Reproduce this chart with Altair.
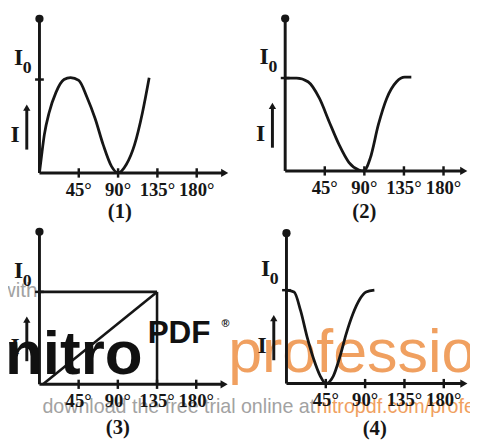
import altair as alt
import pandas as pd

INK = "#161616"
SERIF = "Liberation Serif"
SANS = "Liberation Sans"
GRAY = "#a2a2a2"
ORANGE = "#f0a060"

# ---------------- data ----------------
TICKS = [45, 90, 135, 180]
TICK_LABELS = ["45°", "90°", "135°", "180°"]
PANEL_NAMES = ["(1)", "(2)", "(3)", "(4)"]

# graph (1)
C1_THETA = [0, 2.6, 5.6, 11.2, 18.8, 28.1, 35.6, 45, 54.4, 63.8, 73, 82.5, 90, 99.4, 108.8, 118, 125.6]
C1_I = [0, 0.20, 0.41, 0.65, 0.86, 1.0, 1.02, 0.99, 0.81, 0.58, 0.30, 0.07, 0.0, 0.09, 0.30, 0.65, 1.02]
# graph (2)
C2_THETA = [0, 13, 26, 39, 50, 61.4, 72.6, 83.8, 89.4, 96.8, 106, 115.4, 126.6, 135.9, 143.4]
C2_I = [1.0, 1.0, 0.96, 0.78, 0.53, 0.28, 0.09, 0.01, 0.0, 0.14, 0.50, 0.78, 0.96, 1.01, 1.01]
# graph (3): straight segments
C3_X1 = [0, 135, 4]
C3_Y1 = [1, 0, 0]
C3_X2 = [135, 135, 135]
C3_Y2 = [1, 1, 1]
# graph (4)
C4_THETA = [0, 8.7, 16.2, 23.6, 31.2, 38.7, 45, 53.6, 61.2, 68.6, 76.2, 83.7, 91.1, 100.6]
C4_I = [1.0, 0.98, 0.78, 0.50, 0.26, 0.08, 0.0, 0.08, 0.29, 0.54, 0.75, 0.90, 0.98, 1.0]

# per-panel scale domains (degrees, I/I0) and axis extents
XDOM = [[-36.0, 228.4], [-52.5, 210.1], [-36.1, 229.1], [-54.3, 210.0]]
YDOM = [[-0.568, 1.726], [-0.593, 1.714], [-0.606, 1.713], [-0.607, 1.687]]
Y_TOP = [1.65, 1.64, 1.65, 1.61]
X_END = [212, 203, 212, 203]
NAME_X = [92, 90, 90, 101]
NAME_DY = [40, 42, 45, 46]

W, H = 235, 218


def panel(i, curve_layers, extra_under=(), extra_over=()):
    xs = alt.Scale(domain=XDOM[i], nice=False, zero=False)
    ys = alt.Scale(domain=YDOM[i], nice=False, zero=False)

    def enc(ch, **kw):
        return ch.encode(
            x=alt.X("x:Q", scale=xs, axis=None),
            y=alt.Y("y:Q", scale=ys, axis=None),
            **kw,
        )

    layers = []
    layers += [f(enc) for f in extra_under]
    # x axis
    layers.append(enc(alt.Chart(pd.DataFrame({"x": [0], "x2": [X_END[i]], "y": [0]}))
                      .mark_rule(color=INK, strokeWidth=3), x2="x2:Q"))
    layers.append(enc(alt.Chart(pd.DataFrame({"x": [X_END[i]], "y": [0]}))
                      .mark_point(shape="triangle-right", filled=True, size=70, color=INK, opacity=1)))
    # y axis
    layers.append(enc(alt.Chart(pd.DataFrame({"x": [0], "y": [0], "y2": [Y_TOP[i]]}))
                      .mark_rule(color=INK, strokeWidth=3), y2="y2:Q"))
    layers.append(enc(alt.Chart(pd.DataFrame({"x": [0], "y": [Y_TOP[i]]}))
                      .mark_circle(size=70, color=INK, opacity=1)))
    # x ticks
    layers.append(enc(alt.Chart(pd.DataFrame({"x": TICKS}))
                      .transform_calculate(y="-0.05", y2="0.05")
                      .mark_rule(color=INK, strokeWidth=2.5), y2="y2:Q"))
    # I0 tick
    layers.append(enc(alt.Chart(pd.DataFrame({"x": [-5], "x2": [5], "y": [1]}))
                      .mark_rule(color=INK, strokeWidth=2.5), x2="x2:Q"))
    # tick labels
    layers.append(enc(alt.Chart(pd.DataFrame({"x": TICKS, "y": [0] * 4, "t": TICK_LABELS}))
                      .mark_text(font=SERIF, fontWeight="bold", fontSize=19, color=INK,
                                 baseline="middle", align="center", dy=17), text="t:N"))
    # panel name
    layers.append(enc(alt.Chart(pd.DataFrame({"x": [NAME_X[i]], "y": [0], "t": [PANEL_NAMES[i]]}))
                      .mark_text(font=SERIF, fontWeight="bold", fontSize=21, color=INK,
                                 baseline="middle", align="center", dy=NAME_DY[i]), text="t:N"))
    # I0 label
    layers.append(enc(alt.Chart(pd.DataFrame({"x": [-24], "y": [1.23], "t": ["I"]}))
                      .mark_text(font=SERIF, fontWeight="bold", fontSize=24, color=INK,
                                 baseline="middle", align="center"), text="t:N"))
    layers.append(enc(alt.Chart(pd.DataFrame({"x": [-14], "y": [1.12], "t": ["0"]}))
                      .mark_text(font=SERIF, fontWeight="bold", fontSize=18, color=INK,
                                 baseline="middle", align="center"), text="t:N"))
    # I with upward arrow
    layers.append(enc(alt.Chart(pd.DataFrame({"x": [-14.5], "y": [0.25], "y2": [0.68]}))
                      .mark_rule(color=INK, strokeWidth=3), y2="y2:Q"))
    layers.append(enc(alt.Chart(pd.DataFrame({"x": [-14.5], "y": [0.70]}))
                      .mark_point(shape="triangle-up", filled=True, size=55, color=INK, opacity=1)))
    layers.append(enc(alt.Chart(pd.DataFrame({"x": [-28], "y": [0.40], "t": ["I"]}))
                      .mark_text(font=SERIF, fontWeight="bold", fontSize=24, color=INK,
                                 baseline="middle", align="center"), text="t:N"))
    layers += [f(enc) for f in curve_layers]
    layers += [f(enc) for f in extra_over]
    return alt.layer(*layers).properties(width=W, height=H)


def curve(th, iv):
    return lambda enc: enc(alt.Chart(pd.DataFrame({"x": th, "y": iv}))
                           .mark_line(color=INK, strokeWidth=2.8, interpolate="monotone"))


def segs(enc):
    return enc(alt.Chart(pd.DataFrame({"x": C3_X1, "y": C3_Y1, "x2": C3_X2, "y2": C3_Y2}))
               .mark_rule(color=INK, strokeWidth=2.6), x2="x2:Q", y2="y2:Q")


def txt(x, y, t, align="left", **style):
    return lambda enc: enc(alt.Chart(pd.DataFrame({"x": [x], "y": [y], "t": [t]}))
                           .mark_text(baseline="alphabetic", align=align, **style), text="t:N")


# watermark text (part of the scanned picture)
wm3_under = [
    txt(-2.3, 0.95, "with", align="right", font=SANS, fontSize=21, color=GRAY, clip=True),
    txt(3.4, -0.31, "download the free trial", font=SANS, fontSize=20, color=GRAY),
]
wm3_over = [
    txt(-39.5, 0.106, "nitro", font=SANS, fontWeight="bold", fontSize=63,
        color="#111111", clip=True),
    txt(124.2, 0.447, "PDF", font=SANS, fontWeight="bold", fontSize=32, color="#111111"),
    txt(209, 0.62, "®", font=SANS, fontWeight="bold", fontSize=11, color="#111111"),
]
wm4_under = [
    txt(-66.7, 0.12, "professi", font=SANS, fontSize=62, color=ORANGE),
    txt(177.4, 0.12, "o", font=SANS, fontSize=62, color=ORANGE, clip=True),
    txt(-52.1, -0.31, "online at", font=SANS, fontSize=20, color=GRAY),
    txt(34.5, -0.31, "nitropdf.com/professional", font=SANS, fontSize=20, color=ORANGE, clip=True),
]

p1 = panel(0, [curve(C1_THETA, C1_I)])
p2 = panel(1, [curve(C2_THETA, C2_I)])
p3 = panel(2, [segs], extra_under=wm3_under, extra_over=wm3_over)
p4 = panel(3, [curve(C4_THETA, C4_I)], extra_under=wm4_under)

chart = (
    alt.concat(p1, p2, p3, p4, columns=2, spacing=0, bounds="flush")
    .properties(padding=0, background="white")
    .configure_view(stroke=None)
)

chart.save("out.html", embed_options={"renderer": "svg", "actions": False})
